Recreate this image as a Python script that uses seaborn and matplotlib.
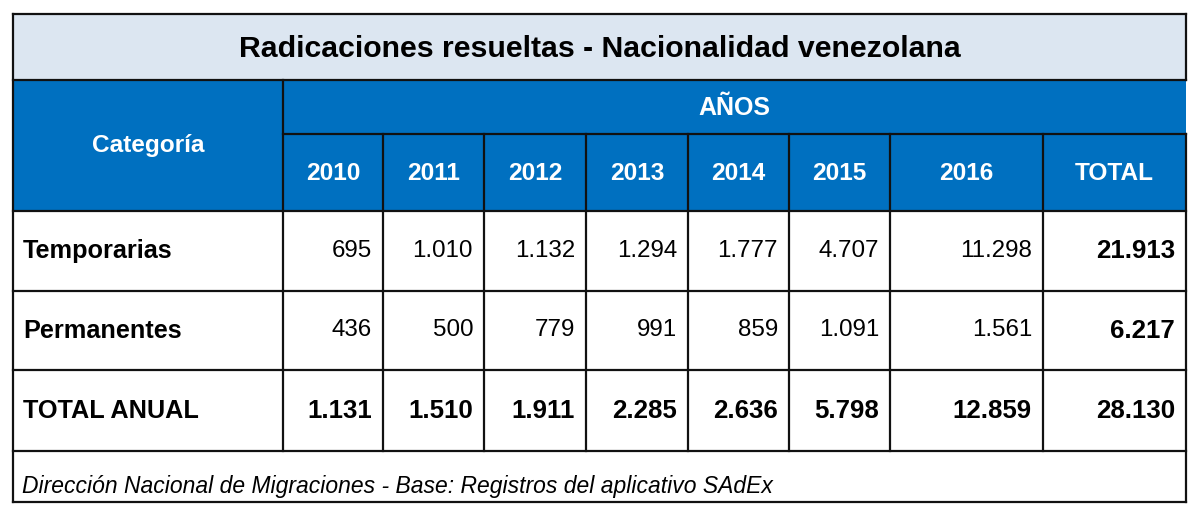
import matplotlib
matplotlib.use("Agg")
import matplotlib.pyplot as plt
import seaborn as sns
from matplotlib.patches import Rectangle

sns.set_theme(style="white")
plt.rcParams['font.family'] = ['Liberation Sans', 'DejaVu Sans']

title = "Radicaciones resueltas - Nacionalidad venezolana"
years_header = "AÑOS"
category_header = "Categoría"
columns = ["2010", "2011", "2012", "2013", "2014", "2015", "2016", "TOTAL"]
categories = ["Temporarias", "Permanentes", "TOTAL ANUAL"]
temporarias = ["695", "1.010", "1.132", "1.294", "1.777", "4.707", "11.298", "21.913"]
permanentes = ["436", "500", "779", "991", "859", "1.091", "1.561", "6.217"]
total_anual = ["1.131", "1.510", "1.911", "2.285", "2.636", "5.798", "12.859", "28.130"]
footer = "Dirección Nacional de Migraciones - Base: Registros del aplicativo SAdEx"

rows = [temporarias, permanentes, total_anual]

# layout (pixel coordinates)
col_edges = [13, 283, 383, 484, 586, 688, 789, 890, 1043, 1186]
y_top, y_title, y_anos, y_head = 14, 80, 134, 211
row_edges = [211, 291, 370, 451]
y_bottom = 502

TITLE_BG = "#DCE6F1"
BLUE = "#0070C0"
LINE = "#111111"

fig = plt.figure(figsize=(12, 5.16), dpi=100)
ax = fig.add_axes([0, 0, 1, 1])
ax.set_xlim(0, 1200)
ax.set_ylim(516, 0)
ax.axis("off")

x0, x1 = col_edges[0], col_edges[-1]
# backgrounds
ax.add_patch(Rectangle((x0, y_top), x1 - x0, y_title - y_top, facecolor=TITLE_BG, edgecolor="none"))
ax.add_patch(Rectangle((x0, y_title), x1 - x0, y_head - y_title, facecolor=BLUE, edgecolor="none"))

lw = 1.6
def hline(y, xa, xb):
    ax.plot([xa, xb], [y, y], color=LINE, lw=lw, solid_capstyle="projecting")
def vline(x, ya, yb):
    ax.plot([x, x], [ya, yb], color=LINE, lw=lw, solid_capstyle="projecting")

# borders
hline(y_top, x0, x1)
hline(y_bottom, x0, x1)
vline(x0, y_top, y_bottom)
vline(x1, y_top, y_title)
vline(x1, y_anos, y_bottom)
hline(y_title, x0, x1)
hline(y_anos, col_edges[1], x1)
for y in row_edges:
    hline(y, x0, x1)
vline(col_edges[1], y_title, row_edges[-1])
for x in col_edges[2:-1]:
    vline(x, y_anos, row_edges[-1])

# title and headers
ax.text((x0 + x1) / 2, (y_top + y_title) / 2 + 2, title, ha="center", va="center",
        fontsize=21.8, fontweight="bold", color="black")
ax.text((col_edges[1] + x1) / 2, (y_title + y_anos) / 2 + 1, years_header, ha="center", va="center",
        fontsize=18, fontweight="bold", color="white")
ax.text((col_edges[0] + col_edges[1]) / 2, (y_title + y_head) / 2, category_header, ha="center",
        va="center", fontsize=17.6, fontweight="bold", color="white")
for i, c in enumerate(columns):
    xc = (col_edges[i + 1] + col_edges[i + 2]) / 2
    ax.text(xc, (y_anos + y_head) / 2 + 1, c, ha="center", va="center",
            fontsize=17.6, fontweight="bold", color="white")

for r, (cat, vals) in enumerate(zip(categories, rows)):
    yc = (row_edges[r] + row_edges[r + 1]) / 2
    ax.text(col_edges[0] + 10, yc, cat, ha="left", va="center", fontsize=18.2,
            fontweight="bold", color="black")
    for i, v in enumerate(vals):
        bold = (r == len(rows) - 1) or (i == len(vals) - 1)
        ax.text(col_edges[i + 2] - 11, yc, v, ha="right", va="center",
                fontsize=18.6 if bold else 17.4,
                fontweight="bold" if bold else "normal", color="black")

ax.text(col_edges[0] + 9, 486, footer, ha="left", va="center", fontsize=16.5,
        fontstyle="italic", color="black")

fig.savefig("out.png", dpi=100, facecolor="white")
